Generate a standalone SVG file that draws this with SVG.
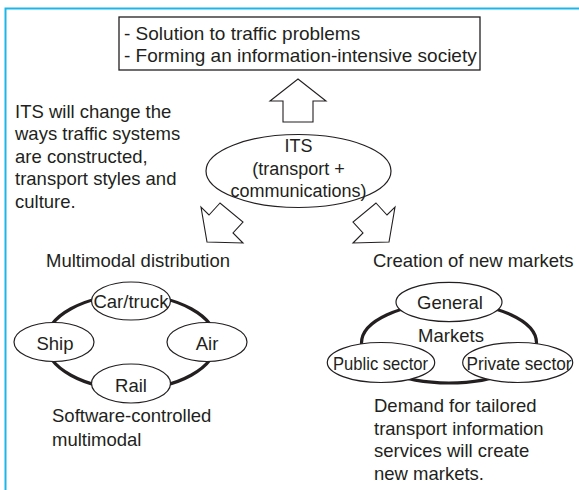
<svg xmlns="http://www.w3.org/2000/svg" width="579" height="490" viewBox="0 0 579 490">
<style>
text{font-family:"Liberation Sans",Arial,sans-serif;font-size:18.5px;fill:#231f20}
.m{text-anchor:middle}
.node{fill:#fff;stroke:#231f20;stroke-width:1.2}
.arr{fill:#fff;stroke:#231f20;stroke-width:1.1;stroke-linejoin:miter}
.ring{fill:none;stroke:#231f20;stroke-width:3.2}
</style>
<rect width="579" height="490" fill="#fff"/>
<path d="M5.5,492 V8.5 H582" fill="none" stroke="#1db6e9" stroke-width="2"/>

<g id="goal">
<rect x="119" y="17" width="361" height="53" fill="#fff" stroke="#231f20" stroke-width="1.3"/>
<text x="124" y="39.5" style="font-size:19px">- Solution to traffic problems</text>
<text x="124" y="61.5" style="font-size:19px">- Forming an information-intensive society</text>
</g>

<g id="note-its">
<text x="15" y="117.5">ITS will change the</text>
<text x="15" y="140">ways traffic systems</text>
<text x="15" y="162.5">are constructed,</text>
<text x="15" y="185">transport styles and</text>
<text x="15" y="207.5">culture.</text>
</g>

<g id="connectors">
<polygon class="arr" points="298,79 326,101 313,101 313,122 283,122 283,101 270,101"/>
<polygon class="arr" points="220,203 209,215 201,207 207,242 243,243 233,233 243,222"/>
<polygon class="arr" points="376,203 387,215 395,207 389,242 353,243 363,233 353,222"/>
<ellipse class="ring" cx="131" cy="342" rx="85" ry="47"/>
<ellipse class="ring" cx="449" cy="343" rx="87.5" ry="40"/>
</g>

<g id="its">
<ellipse class="node" cx="298.5" cy="171" rx="92.5" ry="36.5"/>
<text class="m" x="298.5" y="152" style="font-size:18px">ITS</text>
<text class="m" x="298.5" y="174.5" style="font-size:18px">(transport +</text>
<text class="m" x="298.5" y="197" style="font-size:18px">communications)</text>
</g>

<g id="multimodal">
<text x="46" y="267">Multimodal distribution</text>
<text x="52" y="421.5">Software-controlled</text>
<text x="52" y="445.5">multimodal</text>
</g>

<g id="car-truck">
<ellipse class="node" cx="131" cy="301" rx="39.5" ry="19"/>
<text class="m" x="131" y="307.5">Car/truck</text>
</g>
<g id="ship">
<ellipse class="node" cx="54" cy="342" rx="40" ry="19.5"/>
<text class="m" x="55" y="350">Ship</text>
</g>
<g id="air">
<ellipse class="node" cx="207" cy="342" rx="40" ry="19.5"/>
<text class="m" x="207" y="350">Air</text>
</g>
<g id="rail">
<ellipse class="node" cx="131" cy="383.5" rx="39.5" ry="19.5"/>
<text class="m" x="131" y="392">Rail</text>
</g>

<g id="markets">
<text x="373" y="267">Creation of new markets</text>
<text class="m" x="451" y="342">Markets</text>
<text x="374" y="412">Demand for tailored</text>
<text x="374" y="434.5">transport information</text>
<text x="374" y="457">services will create</text>
<text x="374" y="479.5">new markets.</text>
</g>

<g id="general">
<ellipse class="node" cx="449" cy="302" rx="53" ry="19.7"/>
<text class="m" x="450" y="309">General</text>
</g>
<g id="public-sector">
<ellipse class="node" cx="381" cy="362.5" rx="53.7" ry="20"/>
<text class="m" x="380.5" y="369.5" textLength="95" lengthAdjust="spacingAndGlyphs">Public sector</text>
</g>
<g id="private-sector">
<ellipse class="node" cx="517.7" cy="362.5" rx="55" ry="20"/>
<text class="m" x="519" y="369.5" textLength="105" lengthAdjust="spacingAndGlyphs">Private sector</text>
</g>
</svg>
